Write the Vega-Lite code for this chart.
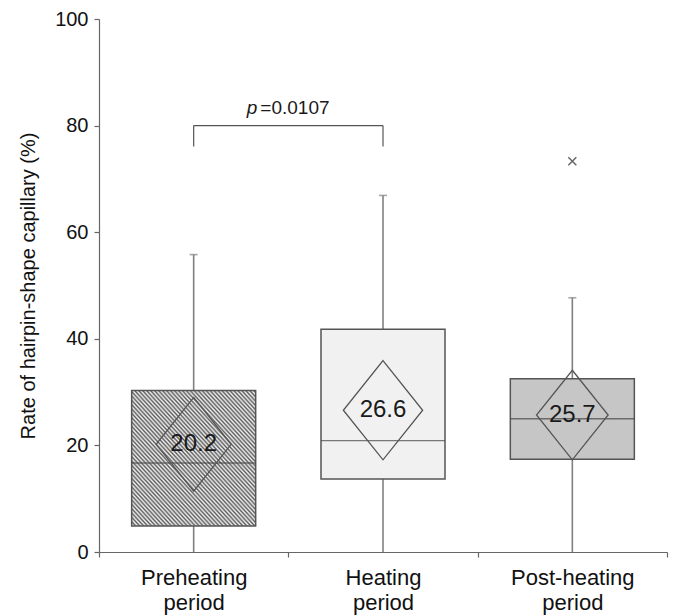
{
  "$schema": "https://vega.github.io/schema/vega-lite/v6.json",
  "width": 568,
  "height": 533,
  "autosize": "none",
  "padding": {"left": 99, "top": 19, "right": 9, "bottom": 63},
  "background": "white",
  "config": {
    "view": {"stroke": null},
    "font": "Liberation Sans",
    "axis": {"domainColor": "#666666", "tickColor": "#666666", "labelColor": "#111111", "titleColor": "#111111", "labelFont": "Liberation Sans", "titleFont": "Liberation Sans", "grid": false, "domainWidth": 1.2, "tickWidth": 1.2}
  },
  "datasets": {
    "boxes": [
      {"period": "Preheating period", "low": 0, "q1": 4.9, "median": 16.7, "q3": 30.3, "high": 55.8, "mean": 20.2, "ci": 8.8},
      {"period": "Heating period", "low": 0, "q1": 13.7, "median": 20.9, "q3": 41.8, "high": 66.9, "mean": 26.6, "ci": 9.3},
      {"period": "Post-heating period", "low": 0, "q1": 17.4, "median": 25.0, "q3": 32.5, "high": 47.7, "mean": 25.7, "ci": 8.4}
    ],
    "outliers": [
      {"period": "Post-heating period", "value": 73.3}
    ],
    "bracket": [
      {"from": "Preheating period", "to": "Heating period", "y": 80, "yleg": 76.1, "p": "p", "rest": "=0.0107"}
    ]
  },
  "encoding": {
    "x": {
      "field": "period", "type": "nominal",
      "scale": {"type": "band", "domain": ["Preheating period", "Heating period", "Post-heating period"], "paddingInner": 0, "paddingOuter": 0},
      "axis": {"title": null, "labelAngle": 0, "tickBand": "extent", "tickSize": 5, "labelFontSize": 22, "labelLineHeight": 25, "labelPadding": 10, "labelExpr": "split(datum.label, ' ')"}
    }
  },
  "layer": [
    {
      "data": {"name": "boxes"},
      "mark": {"type": "rule", "color": "#808080", "strokeWidth": 1.6},
      "encoding": {
        "y": {"field": "low", "type": "quantitative", "scale": {"domain": [0, 100], "nice": false}, "axis": {"values": [0, 20, 40, 60, 80, 100], "title": "Rate of hairpin-shape capillary (%)", "titleFontSize": 20, "titleFontWeight": "normal", "titlePadding": 16, "labelFontSize": 20, "tickSize": 5, "labelPadding": 6}},
        "y2": {"field": "high"}
      }
    },
    {
      "data": {"name": "boxes"},
      "mark": {"type": "tick", "color": "#808080", "size": 8, "thickness": 1.6},
      "encoding": {"y": {"field": "high", "type": "quantitative"}}
    },
    {
      "data": {"name": "boxes"},
      "mark": {"type": "bar", "width": {"band": 0.655}, "stroke": "#555555", "strokeWidth": 1.5},
      "encoding": {
        "y": {"field": "q1", "type": "quantitative"},
        "y2": {"field": "q3"},
        "fill": {
          "condition": {
            "test": "datum.period === 'Preheating period'",
            "value": {"gradient": "linear", "x1": 0, "y1": 1, "x2": 1, "y2": 0, "stops": [
              {"offset": 0, "color": "#5c5c5c"}, {"offset": 0.008, "color": "#f2f2f2"}, {"offset": 0.016, "color": "#5c5c5c"}, {"offset": 0.024, "color": "#f2f2f2"},
              {"offset": 0.032, "color": "#5c5c5c"}, {"offset": 0.04, "color": "#f2f2f2"}, {"offset": 0.048, "color": "#5c5c5c"}, {"offset": 0.056, "color": "#f2f2f2"},
              {"offset": 0.064, "color": "#5c5c5c"}, {"offset": 0.072, "color": "#f2f2f2"}, {"offset": 0.08, "color": "#5c5c5c"}, {"offset": 0.088, "color": "#f2f2f2"},
              {"offset": 0.096, "color": "#5c5c5c"}, {"offset": 0.104, "color": "#f2f2f2"}, {"offset": 0.112, "color": "#5c5c5c"}, {"offset": 0.12, "color": "#f2f2f2"},
              {"offset": 0.128, "color": "#5c5c5c"}, {"offset": 0.136, "color": "#f2f2f2"}, {"offset": 0.144, "color": "#5c5c5c"}, {"offset": 0.152, "color": "#f2f2f2"},
              {"offset": 0.16, "color": "#5c5c5c"}, {"offset": 0.168, "color": "#f2f2f2"}, {"offset": 0.176, "color": "#5c5c5c"}, {"offset": 0.184, "color": "#f2f2f2"},
              {"offset": 0.192, "color": "#5c5c5c"}, {"offset": 0.2, "color": "#f2f2f2"}, {"offset": 0.208, "color": "#5c5c5c"}, {"offset": 0.216, "color": "#f2f2f2"},
              {"offset": 0.224, "color": "#5c5c5c"}, {"offset": 0.232, "color": "#f2f2f2"}, {"offset": 0.24, "color": "#5c5c5c"}, {"offset": 0.248, "color": "#f2f2f2"},
              {"offset": 0.256, "color": "#5c5c5c"}, {"offset": 0.264, "color": "#f2f2f2"}, {"offset": 0.272, "color": "#5c5c5c"}, {"offset": 0.28, "color": "#f2f2f2"},
              {"offset": 0.288, "color": "#5c5c5c"}, {"offset": 0.296, "color": "#f2f2f2"}, {"offset": 0.304, "color": "#5c5c5c"}, {"offset": 0.312, "color": "#f2f2f2"},
              {"offset": 0.32, "color": "#5c5c5c"}, {"offset": 0.328, "color": "#f2f2f2"}, {"offset": 0.336, "color": "#5c5c5c"}, {"offset": 0.344, "color": "#f2f2f2"},
              {"offset": 0.352, "color": "#5c5c5c"}, {"offset": 0.36, "color": "#f2f2f2"}, {"offset": 0.368, "color": "#5c5c5c"}, {"offset": 0.376, "color": "#f2f2f2"},
              {"offset": 0.384, "color": "#5c5c5c"}, {"offset": 0.392, "color": "#f2f2f2"}, {"offset": 0.4, "color": "#5c5c5c"}, {"offset": 0.408, "color": "#f2f2f2"},
              {"offset": 0.416, "color": "#5c5c5c"}, {"offset": 0.424, "color": "#f2f2f2"}, {"offset": 0.432, "color": "#5c5c5c"}, {"offset": 0.44, "color": "#f2f2f2"},
              {"offset": 0.448, "color": "#5c5c5c"}, {"offset": 0.456, "color": "#f2f2f2"}, {"offset": 0.464, "color": "#5c5c5c"}, {"offset": 0.472, "color": "#f2f2f2"},
              {"offset": 0.48, "color": "#5c5c5c"}, {"offset": 0.488, "color": "#f2f2f2"}, {"offset": 0.496, "color": "#5c5c5c"}, {"offset": 0.504, "color": "#f2f2f2"},
              {"offset": 0.512, "color": "#5c5c5c"}, {"offset": 0.52, "color": "#f2f2f2"}, {"offset": 0.528, "color": "#5c5c5c"}, {"offset": 0.536, "color": "#f2f2f2"},
              {"offset": 0.544, "color": "#5c5c5c"}, {"offset": 0.552, "color": "#f2f2f2"}, {"offset": 0.56, "color": "#5c5c5c"}, {"offset": 0.568, "color": "#f2f2f2"},
              {"offset": 0.576, "color": "#5c5c5c"}, {"offset": 0.584, "color": "#f2f2f2"}, {"offset": 0.592, "color": "#5c5c5c"}, {"offset": 0.6, "color": "#f2f2f2"},
              {"offset": 0.608, "color": "#5c5c5c"}, {"offset": 0.616, "color": "#f2f2f2"}, {"offset": 0.624, "color": "#5c5c5c"}, {"offset": 0.632, "color": "#f2f2f2"},
              {"offset": 0.64, "color": "#5c5c5c"}, {"offset": 0.648, "color": "#f2f2f2"}, {"offset": 0.656, "color": "#5c5c5c"}, {"offset": 0.664, "color": "#f2f2f2"},
              {"offset": 0.672, "color": "#5c5c5c"}, {"offset": 0.68, "color": "#f2f2f2"}, {"offset": 0.688, "color": "#5c5c5c"}, {"offset": 0.696, "color": "#f2f2f2"},
              {"offset": 0.704, "color": "#5c5c5c"}, {"offset": 0.712, "color": "#f2f2f2"}, {"offset": 0.72, "color": "#5c5c5c"}, {"offset": 0.728, "color": "#f2f2f2"},
              {"offset": 0.736, "color": "#5c5c5c"}, {"offset": 0.744, "color": "#f2f2f2"}, {"offset": 0.752, "color": "#5c5c5c"}, {"offset": 0.76, "color": "#f2f2f2"},
              {"offset": 0.768, "color": "#5c5c5c"}, {"offset": 0.776, "color": "#f2f2f2"}, {"offset": 0.784, "color": "#5c5c5c"}, {"offset": 0.792, "color": "#f2f2f2"},
              {"offset": 0.8, "color": "#5c5c5c"}, {"offset": 0.808, "color": "#f2f2f2"}, {"offset": 0.816, "color": "#5c5c5c"}, {"offset": 0.824, "color": "#f2f2f2"},
              {"offset": 0.832, "color": "#5c5c5c"}, {"offset": 0.84, "color": "#f2f2f2"}, {"offset": 0.848, "color": "#5c5c5c"}, {"offset": 0.856, "color": "#f2f2f2"},
              {"offset": 0.864, "color": "#5c5c5c"}, {"offset": 0.872, "color": "#f2f2f2"}, {"offset": 0.88, "color": "#5c5c5c"}, {"offset": 0.888, "color": "#f2f2f2"},
              {"offset": 0.896, "color": "#5c5c5c"}, {"offset": 0.904, "color": "#f2f2f2"}, {"offset": 0.912, "color": "#5c5c5c"}, {"offset": 0.92, "color": "#f2f2f2"},
              {"offset": 0.928, "color": "#5c5c5c"}, {"offset": 0.936, "color": "#f2f2f2"}, {"offset": 0.944, "color": "#5c5c5c"}, {"offset": 0.952, "color": "#f2f2f2"},
              {"offset": 0.96, "color": "#5c5c5c"}, {"offset": 0.968, "color": "#f2f2f2"}, {"offset": 0.976, "color": "#5c5c5c"}, {"offset": 0.984, "color": "#f2f2f2"},
              {"offset": 0.992, "color": "#5c5c5c"}, {"offset": 1, "color": "#f2f2f2"}
            ]}
          },
          "field": "period", "type": "nominal", "legend": null,
          "scale": {"domain": ["Preheating period", "Heating period", "Post-heating period"], "range": ["#a8a8a8", "#f1f1f1", "#c6c6c6"]}
        }
      }
    },
    {
      "data": {"name": "boxes"},
      "mark": {"type": "tick", "color": "#444444", "size": 124, "thickness": 1.3},
      "encoding": {"y": {"field": "median", "type": "quantitative"}}
    },
    {
      "data": {"name": "boxes"},
      "mark": {"type": "point", "shape": "M0,-1L0.8,0L0,1L-0.8,0Z", "filled": false, "stroke": "#555555", "strokeWidth": 1.3, "opacity": 1},
      "encoding": {
        "y": {"field": "mean", "type": "quantitative"},
        "size": {"field": "ci", "type": "quantitative", "legend": null, "scale": {"type": "pow", "exponent": 2, "domain": [0, 10], "range": [0, 11364]}}
      }
    },
    {
      "data": {"name": "boxes"},
      "mark": {"type": "text", "fontSize": 24, "color": "#1a1a1a", "baseline": "middle", "align": "center"},
      "encoding": {
        "y": {"field": "mean", "type": "quantitative"},
        "text": {"field": "mean", "type": "quantitative", "format": ".1f"}
      }
    },
    {
      "data": {"name": "outliers"},
      "mark": {"type": "point", "shape": "M-1,-1L1,1M-1,1L1,-1", "filled": false, "stroke": "#666666", "strokeWidth": 1.5, "size": 64, "opacity": 1},
      "encoding": {"y": {"field": "value", "type": "quantitative"}}
    },
    {
      "data": {"name": "bracket"},
      "mark": {"type": "rule", "color": "#555555", "strokeWidth": 1.2},
      "encoding": {
        "x": {"field": "from", "type": "nominal"},
        "x2": {"field": "to"},
        "y": {"field": "y", "type": "quantitative"}
      }
    },
    {
      "data": {"name": "bracket"},
      "mark": {"type": "rule", "color": "#555555", "strokeWidth": 1.2},
      "encoding": {
        "x": {"field": "from", "type": "nominal"},
        "y": {"field": "yleg", "type": "quantitative"},
        "y2": {"field": "y"}
      }
    },
    {
      "data": {"name": "bracket"},
      "mark": {"type": "rule", "color": "#555555", "strokeWidth": 1.2},
      "encoding": {
        "x": {"field": "to", "type": "nominal"},
        "y": {"field": "yleg", "type": "quantitative"},
        "y2": {"field": "y"}
      }
    },
    {
      "data": {"name": "bracket"},
      "mark": {"type": "text", "fontSize": 19, "fontStyle": "italic", "color": "#1a1a1a", "align": "right", "baseline": "alphabetic", "dx": -31, "dy": -12},
      "encoding": {
        "x": {"field": "from", "type": "nominal", "bandPosition": 1},
        "y": {"field": "y", "type": "quantitative"},
        "text": {"field": "p"}
      }
    },
    {
      "data": {"name": "bracket"},
      "mark": {"type": "text", "fontSize": 19, "color": "#1a1a1a", "align": "left", "baseline": "alphabetic", "dx": -28, "dy": -12},
      "encoding": {
        "x": {"field": "from", "type": "nominal", "bandPosition": 1},
        "y": {"field": "y", "type": "quantitative"},
        "text": {"field": "rest"}
      }
    }
  ]
}
